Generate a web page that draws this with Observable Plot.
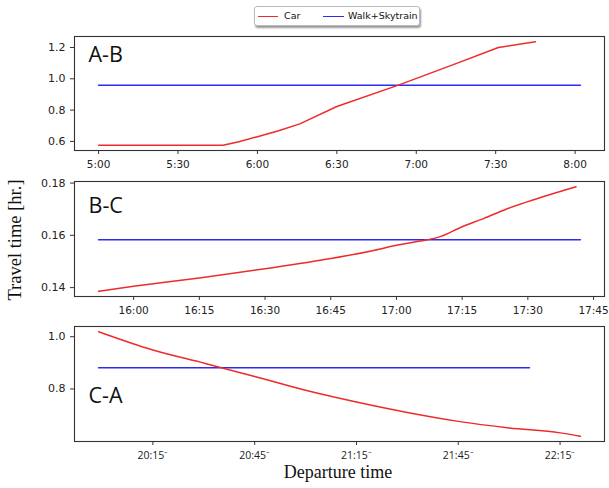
<!DOCTYPE html>
<html><head><meta charset="utf-8">
<script src="https://cdn.jsdelivr.net/npm/d3@7"></script>
<script src="https://cdn.jsdelivr.net/npm/@observablehq/plot@0.6"></script>
<style>
html,body{margin:0;padding:0;background:#fff;}
body{width:609px;height:488px;position:relative;overflow:hidden;font-family:"DejaVu Sans",sans-serif;}
.panel{position:absolute;left:0;}
.panel svg{background:transparent !important;overflow:visible;}
#legend{position:absolute;left:254px;top:6px;width:164px;height:18px;border:1px solid #bbb;border-radius:3px;background:#fff;box-shadow:1px 2px 2px #999;font-size:9.5px;color:#111;}
#legend .sw{position:absolute;top:9px;height:0;border-top:1.5px solid;}
#legend .lb{position:absolute;top:3px;}
#ylab{position:absolute;left:15px;top:240px;transform:translate(-50%,-50%) rotate(-90deg);font-family:"Liberation Serif",serif;font-size:18.5px;white-space:nowrap;color:#111;}
#xlab{position:absolute;left:338px;top:472px;transform:translate(-50%,-50%);font-family:"Liberation Serif",serif;font-size:18px;white-space:nowrap;color:#111;}
</style></head><body>
<div id="legend">
  <div class="sw" style="left:3px;width:20px;border-color:#ee2b2b"></div><div class="lb" style="left:29px">Car</div>
  <div class="sw" style="left:68px;width:21px;border-color:#2b2bf5"></div><div class="lb" style="left:93px">Walk+Skytrain</div>
</div>
<div id="p1" class="panel" style="top:26px"></div>
<div id="p2" class="panel" style="top:171px"></div>
<div id="p3" class="panel" style="top:316px"></div>
<div id="ylab">Travel time [hr.]</div>
<div id="xlab">Departure time</div>
<script>
// ---- Data ----
const seriesNames = ["Car", "Walk+Skytrain"];
const panelLabels = ["A-B", "B-C", "C-A"];

// A-B
const abCarTimes = ["5:00","5:47","5:53","6:00","6:08","6:16","6:30","6:53","7:15","7:31","7:45"];
const abCarValues = [0.575,0.575,0.598,0.63,0.668,0.712,0.823,0.958,1.097,1.2,1.237];
const abWalkTimes = ["5:00","8:02"];
const abWalkValues = [0.958,0.958];
const abTicks = ["5:00","5:30","6:00","6:30","7:00","7:30","8:00"];
const abYTicks = [0.6,0.8,1.0,1.2];

// B-C
const bcCarTimes = ["15:52","16:00","16:15","16:30","16:45","16:55","17:00","17:07","17:10","17:15","17:20","17:25","17:30","17:41"];
const bcCarValues = [0.1386,0.1405,0.1437,0.1472,0.1511,0.1543,0.1562,0.1583,0.1595,0.1633,0.1665,0.1700,0.1729,0.1786];
const bcWalkTimes = ["15:52","17:42"];
const bcWalkValues = [0.1583,0.1583];
const bcTicks = ["16:00","16:15","16:30","16:45","17:00","17:15","17:30","17:45"];
const bcYTicks = [0.14,0.16,0.18];

// C-A
const caCarTimes = ["19:59","20:15","20:30","20:45","21:00","21:15","21:30","21:45","22:00","22:15","22:21"];
const caCarValues = [1.019,0.949,0.899,0.848,0.795,0.750,0.710,0.676,0.651,0.632,0.619];
const caWalkTimes = ["19:59","22:06"];
const caWalkValues = [0.881,0.881];
const caTicks = ["20:15","20:45","21:15","21:45","22:15"];
const caYTicks = [0.8,1.0];

// ---- Helpers ----
const tm = s => { const [h, m] = s.split(":").map(Number); return new Date(2000, 0, 1, h, m); };
const padExtent = (ext) => {
  const a = +ext[0], b = +ext[1], r = (b - a) * 0.05;
  return [a - r, b + r];
};
const fmtHM = d3.timeFormat("%-H:%M");

function panel(id, o) {
  const car = o.carT.map((t, i) => ({t: tm(t), v: o.carV[i], s: seriesNames[0]}));
  const walk = o.walkT.map((t, i) => ({t: tm(t), v: o.walkV[i], s: seriesNames[1]}));
  const all = car.concat(walk);
  const xd = padExtent(d3.extent(all, d => d.t)).map(v => new Date(v));
  const yd = padExtent(d3.extent(all, d => d.v));
  const chart = Plot.plot({
    width: 609, height: o.height,
    marginLeft: 74, marginRight: 5, marginTop: 10, marginBottom: o.mb,
    style: {background: "transparent", fontFamily: "DejaVu Sans, sans-serif", fontSize: "10.5px", color: "#222"},
    x: {type: "time", domain: xd},
    y: {domain: yd},
    marks: [
      Plot.axisX({ticks: o.ticks.map(tm), tickFormat: o.xfmt || fmtHM, tickSize: 4, tickPadding: 6, label: null,
        stroke: "#333", fontFamily: o.xFont || "DejaVu Sans", fontSize: o.xFontSize || 10.5}),
      Plot.axisY({ticks: o.yticks, tickFormat: d3.format(o.yf), tickSize: 4, tickPadding: 5, label: null, stroke: "#333", fontSize: 11}),
      Plot.line(walk, {x: "t", y: "v", stroke: "#2b2bf5", strokeWidth: 1.5}),
      Plot.line(car, {x: "t", y: "v", stroke: "#ee2b2b", strokeWidth: 1.5, curve: o.curve}),
      Plot.frame({stroke: "#333", strokeWidth: 1.1}),
      Plot.text([o.label], {frameAnchor: "top-left", textAnchor: "start", lineAnchor: "top", dx: 14, dy: o.ldy,
        fontFamily: "Open Sans", fontSize: 21.5, fill: "#111"})
    ]
  });
  document.getElementById(id).appendChild(chart);
}

panel("p1", {carT: abCarTimes, carV: abCarValues, walkT: abWalkTimes, walkV: abWalkValues, curve: "linear",
  ticks: abTicks, yticks: abYTicks, yf: ".1f", height: 148, mb: 24, label: panelLabels[0], ldy: 10});
panel("p2", {carT: bcCarTimes, carV: bcCarValues, walkT: bcWalkTimes, walkV: bcWalkValues, curve: "monotone-x",
  ticks: bcTicks, yticks: bcYTicks, yf: ".2f", height: 147, mb: 22, label: panelLabels[1], ldy: 16});
panel("p3", {carT: caCarTimes, carV: caCarValues, walkT: caWalkTimes, walkV: caWalkValues, curve: "monotone-x",
  ticks: caTicks, yticks: caYTicks, yf: ".1f", height: 149, mb: 24, label: panelLabels[2], ldy: 61,
  xfmt: d => fmtHM(d) + "⁻", xFont: "Open Sans", xFontSize: 10.5});
</script>
</body></html>
